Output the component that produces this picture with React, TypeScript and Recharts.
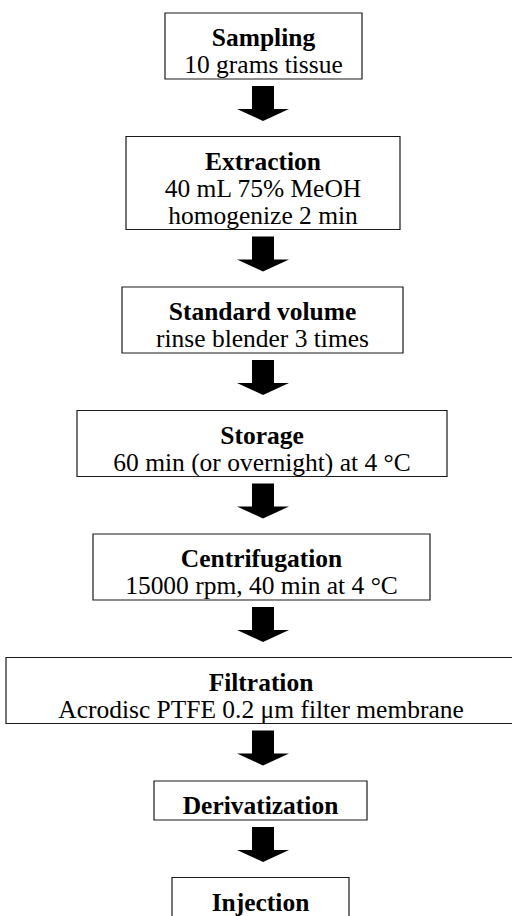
import React from "react";
import {
  ComposedChart,
  XAxis,
  YAxis,
  Scatter,
  ReferenceArea,
} from "recharts";

// Steps of the sample preparation workflow
const stepTitles = [
  "Sampling",
  "Extraction",
  "Standard volume",
  "Storage",
  "Centrifugation",
  "Filtration",
  "Derivatization",
  "Injection",
];

const stepDetails: string[][] = [
  ["10 grams tissue"],
  ["40 mL 75% MeOH", "homogenize 2 min"],
  ["rinse blender 3 times"],
  ["60 min (or overnight) at 4 °C"],
  ["15000 rpm, 40 min at 4 °C"],
  ["Acrodisc PTFE 0.2 μm filter membrane"],
  [],
  [],
];

// horizontal extent of each box, in chart units
const boxLeft = [165, 126, 122, 77, 93, 6, 154, 172];
const boxRight = [362, 400, 403, 447, 430, 516, 367, 349];

const W = 512;
const H = 916;
const FIRST_TOP = 13;
const GAP = 57.5;
const FIRST_BASELINE = 33;
const LINE = 27;
const BOTTOM_PAD = 6;
const ARROW_X = 263;
const FONT = "'Liberation Serif', 'Times New Roman', serif";
const FONT_SIZE = 24.5;
const STRETCH = 1.04;

// vertical layout follows from the number of text lines in each box
const tops: number[] = [];
const bottoms: number[] = [];
let cursor = FIRST_TOP;
stepTitles.forEach((_, i) => {
  const lines = 1 + stepDetails[i].length;
  const h = FIRST_BASELINE + LINE * (lines - 1) + BOTTOM_PAD;
  tops.push(cursor);
  bottoms.push(cursor + h);
  cursor += h + GAP;
});

const steps = stepTitles.map((title, i) => ({
  x: (boxLeft[i] + boxRight[i]) / 2,
  y: tops[i],
  title,
  details: stepDetails[i],
}));

const StepText = (props: any) => {
  const { cx, cy, payload } = props;
  const lines = [payload.title, ...payload.details];
  return (
    <g>
      {lines.map((t: string, k: number) => (
        <text
          key={k}
          transform={`translate(${cx},${cy + FIRST_BASELINE + LINE * k}) scale(${STRETCH},1)`}
          textAnchor="middle"
          fontFamily={FONT}
          fontSize={FONT_SIZE}
          fontWeight={k === 0 ? 700 : 400}
          fill="#000"
        >
          {t}
        </text>
      ))}
    </g>
  );
};

const Arrow = (props: any) => {
  const { x, y, width, height } = props;
  const cx = x + width / 2;
  const shaft = 11;
  const head = 12;
  const pts = [
    [cx - shaft, y],
    [cx + shaft, y],
    [cx + shaft, y + height - head],
    [x + width, y + height - head],
    [cx, y + height],
    [x, y + height - head],
    [cx - shaft, y + height - head],
  ]
    .map((p) => p.join(","))
    .join(" ");
  return <polygon points={pts} fill="#000" />;
};

const App: React.FC = () => {
  return (
    <div style={{ position: "absolute", left: 0, top: 0, width: W, height: H, background: "#fff" }}>
      <ComposedChart width={W} height={H} data={steps} margin={{ top: 0, right: 0, bottom: 0, left: 0 }}>
        <XAxis type="number" dataKey="x" domain={[0, W]} hide allowDataOverflow />
        <YAxis type="number" dataKey="y" domain={[0, H]} reversed hide allowDataOverflow />
        {steps.map((s, i) => (
          <ReferenceArea
            key={`box-${i}`}
            x1={boxLeft[i]}
            x2={boxRight[i]}
            y1={tops[i]}
            y2={bottoms[i]}
            fill="#fff"
            fillOpacity={1}
            stroke="#1a1a1a"
            strokeWidth={1.2}
            ifOverflow="visible"
          />
        ))}
        {steps.slice(0, -1).map((s, i) => (
          <ReferenceArea
            key={`arrow-${i}`}
            x1={ARROW_X - 26}
            x2={ARROW_X + 26}
            y1={bottoms[i] + 7}
            y2={bottoms[i] + 42}
            ifOverflow="visible"
            shape={<Arrow />}
          />
        ))}
        <Scatter dataKey="y" shape={<StepText />} isAnimationActive={false} />
      </ComposedChart>
    </div>
  );
};

export default App;
